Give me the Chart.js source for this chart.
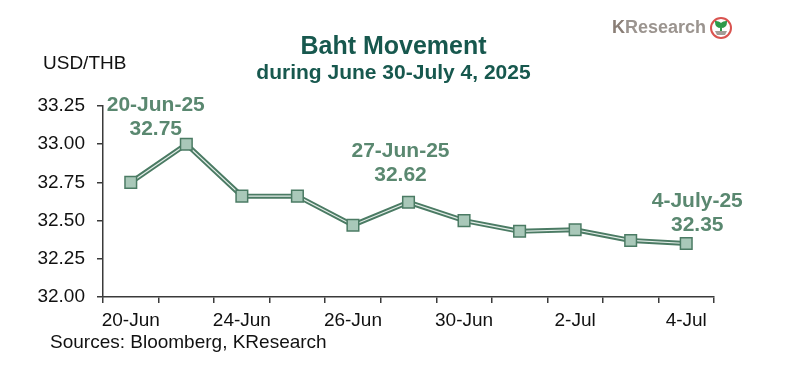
<!DOCTYPE html>
<html>
<head>
<meta charset="utf-8">
<script src="https://cdn.jsdelivr.net/npm/chart.js@4.4.1/dist/chart.umd.min.js"></script>
<style>
    body { margin: 0; background: #fff; font-family: "Liberation Sans", Arial, sans-serif; }
    .wrap { position: relative; width: 787px; height: 385px; overflow: hidden; }
    #baht { position: absolute; left: 0; top: 0; }
    .txt { position: absolute; white-space: nowrap; line-height: 1; }
    .title { left: 0; width: 787px; text-align: center; color: #17584e; font-weight: bold; }
    .logo { left: 612px; top: 18px; font-size: 18px; font-weight: bold; color: #9b948f; }
    .logo b { color: #8a7e76; }
    .logo svg { position: absolute; left: 97px; top: -2px; }
</style>
</head>
<body>
<div class="wrap">
    <canvas id="baht" width="787" height="385"></canvas>
    <div class="txt title" style="top:33px;font-size:25px;">Baht Movement</div>
    <div class="txt title" style="top:61px;font-size:21px;">during June 30-July 4, 2025</div>
    <div class="txt logo"><b>K</b>Research<svg width="24" height="24" viewBox="0 0 24 24">
        <circle cx="12" cy="12" r="10" fill="#fff" stroke="#d9534f" stroke-width="2"/>
        <path d="M6 15 L18 15 L16 19 L8 19 Z" fill="#a39c96"/>
        <path d="M12 15 L12 10 M12 11 C9 11 7 9 7 6 C10 6 12 8 12 11 M12 11 C15 11 17 9 17 6 C14 6 12 8 12 11" stroke="#2e9a4a" stroke-width="2" fill="#2e9a4a"/>
    </svg></div>
    <div class="txt" style="left:43px;top:53px;font-size:19px;color:#111;">USD/THB</div>
    <div class="txt" style="left:50px;top:332px;font-size:19px;color:#111;">Sources: Bloomberg, KResearch</div>
</div>
<script>
// data
var categories = ['20-Jun', '23-Jun', '24-Jun', '25-Jun', '26-Jun', '27-Jun', '30-Jun', '1-Jul', '2-Jul', '3-Jul', '4-Jul'];
var usdThb = [32.75, 33.00, 32.66, 32.66, 32.47, 32.62, 32.50, 32.43, 32.44, 32.37, 32.35];
var shownLabels = ['20-Jun', '24-Jun', '26-Jun', '30-Jun', '2-Jul', '4-Jul'];
var yTicks = [32.00, 32.25, 32.50, 32.75, 33.00, 33.25];
var noteIndex = [0, 5, 10];
var noteText = ['20-Jun-25', '27-Jun-25', '4-July-25'];

// label placement relative to the point (line 2 baseline)
var noteOffset = [[25, -47], [-8, -21], [11, -13]];

var green = '#4b7b64';
var noteColor = '#5a8870';
var axisColor = '#3a3a3a';

const notes = {
    id: 'notes',
    afterDatasetsDraw(chart) {
        const c = chart.ctx;
        c.save();
        c.fillStyle = noteColor;
        c.font = 'bold 21px "Liberation Sans", Arial, sans-serif';
        c.textAlign = 'center';
        c.textBaseline = 'alphabetic';
        noteIndex.forEach(function (idx, i) {
            const px = chart.scales.x.getPixelForValue(idx) + noteOffset[i][0];
            const py = chart.scales.y.getPixelForValue(usdThb[idx]) + noteOffset[i][1];
            c.fillText(noteText[i], px, py - 24);
            c.fillText(usdThb[idx].toFixed(2), px, py);
        });
        c.restore();
    }
};

new Chart(document.getElementById('baht'), {
    type: 'line',
    data: {
        labels: categories,
        datasets: [{
            data: usdThb,
            borderColor: green,
            borderWidth: 5,
            pointRadius: 0,
            tension: 0,
            order: 3
        }, {
            data: usdThb,
            borderColor: '#e3ede8',
            borderWidth: 1.2,
            pointRadius: 0,
            tension: 0,
            order: 2
        }, {
            data: usdThb,
            showLine: false,
            pointStyle: 'rect',
            pointRadius: 8.2,
            pointBackgroundColor: '#a9c8b9',
            pointBorderColor: green,
            pointBorderWidth: 1.5,
            order: 1
        }]
    },
    options: {
        responsive: false,
        animation: false,
        events: [],
        layout: { padding: { left: 0, right: 73, top: 106, bottom: 48 } },
        plugins: {
            legend: { display: false },
            tooltip: { enabled: false }
        },
        scales: {
            x: {
                offset: true,
                afterFit: function (s) { s.height = 40; },
                border: { color: axisColor, width: 1.5 },
                grid: { offset: true, drawOnChartArea: false, tickLength: 6, color: axisColor, lineWidth: 1.5 },
                ticks: {
                    autoSkip: false,
                    maxRotation: 0,
                    padding: 6,
                    color: '#111',
                    font: { size: 19, family: '"Liberation Sans", Arial, sans-serif' },
                    callback: function (v, i) {
                        return shownLabels.indexOf(categories[i]) != -1 ? categories[i] : '';
                    }
                }
            },
            y: {
                min: yTicks[0],
                max: yTicks[yTicks.length - 1],
                afterFit: function (s) { s.width = 103; },
                afterBuildTicks: function (s) { s.ticks = yTicks.map(function (v) { return { value: v }; }); },
                border: { color: axisColor, width: 1.5 },
                grid: { drawOnChartArea: false, tickLength: 6, color: axisColor, lineWidth: 1.5 },
                ticks: {
                    padding: 12,
                    color: '#111',
                    font: { size: 19, family: '"Liberation Sans", Arial, sans-serif' },
                    callback: function (v) { return Number(v).toFixed(2); }
                }
            }
        }
    },
    plugins: [notes]
});
</script>
</body>
</html>
